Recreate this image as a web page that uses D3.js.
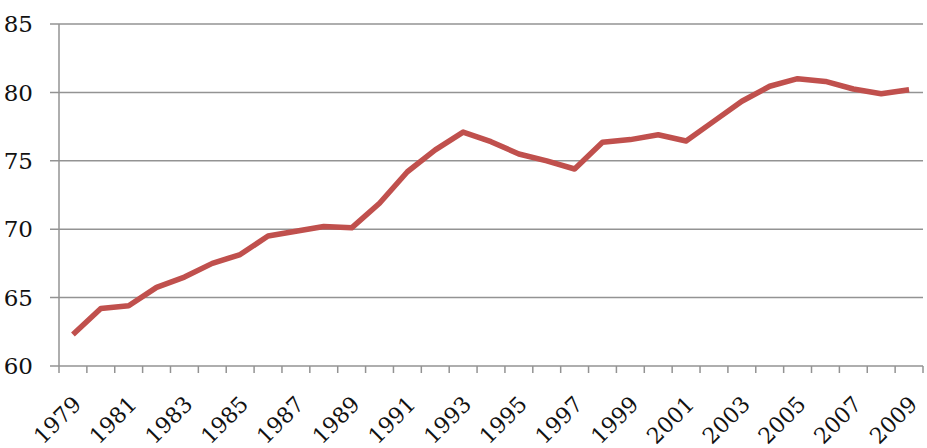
<!DOCTYPE html>
<html><head><meta charset="utf-8">
<script src="https://cdn.jsdelivr.net/npm/d3@7"></script>
<style>body{margin:0;background:#fff}svg{display:block}</style>
</head><body>
<script>
const years = d3.range(1979, 2010).map(String);
const values = [62.3,64.2,64.4,65.75,66.5,67.5,68.15,69.5,69.85,70.2,70.1,71.9,74.2,75.8,77.1,76.4,75.5,75.0,74.4,76.35,76.55,76.9,76.45,77.9,79.35,80.45,81.0,80.8,80.25,79.9,80.2];
const yTicks = [60,65,70,75,80,85];
const xLabels = years.filter((d,i)=>i%2===0);

const W=927,H=448;
const m={left:59,right:4,top:24,bottom:82};
const svg=d3.select("body").append("svg").attr("width",W).attr("height",H);
const x=d3.scaleBand().domain(years).range([m.left,W-m.right]);
const y=d3.scaleLinear().domain([60,85]).range([H-m.bottom,m.top]);
const font="'DejaVu Serif', 'Liberation Serif', serif";
const grid="#939393";

svg.append("g").selectAll("line").data(yTicks).join("line")
  .attr("x1",m.left-9).attr("x2",W-m.right)
  .attr("y1",d=>y(d)).attr("y2",d=>y(d))
  .attr("stroke",grid).attr("stroke-width",1.5);
svg.append("g").selectAll("text").data(yTicks).join("text")
  .attr("x",33).attr("y",d=>y(d)).attr("dy","0.36em")
  .attr("text-anchor","end").attr("font-family",font).attr("font-size",23)
  .attr("fill","#111").text(d=>d);
svg.append("line").attr("x1",m.left).attr("x2",m.left).attr("y1",y(85)).attr("y2",y(60))
  .attr("stroke",grid).attr("stroke-width",1.5);
const bounds=years.map(d=>x(d)).concat([x(years[years.length-1])+x.bandwidth()]);
svg.append("g").selectAll("line").data(bounds).join("line")
  .attr("x1",d=>d).attr("x2",d=>d).attr("y1",y(60)).attr("y2",y(60)+7)
  .attr("stroke",grid).attr("stroke-width",1.5);
svg.append("g").selectAll("text").data(xLabels).join("text")
  .attr("transform",d=>`translate(${x(d)+x.bandwidth()/2+4},${y(60)+34}) rotate(-45)`)
  .attr("text-anchor","end").attr("dy","0.36em").attr("font-family",font).attr("font-size",22)
  .attr("fill","#111").text(d=>d);
const line=d3.line().x((d,i)=>x(years[i])+x.bandwidth()/2).y(d=>y(d));
svg.append("path").datum(values).attr("d",line).attr("fill","none")
  .attr("stroke","#C0504D").attr("stroke-width",5.5).attr("stroke-linejoin","round");
</script>
</body></html>
